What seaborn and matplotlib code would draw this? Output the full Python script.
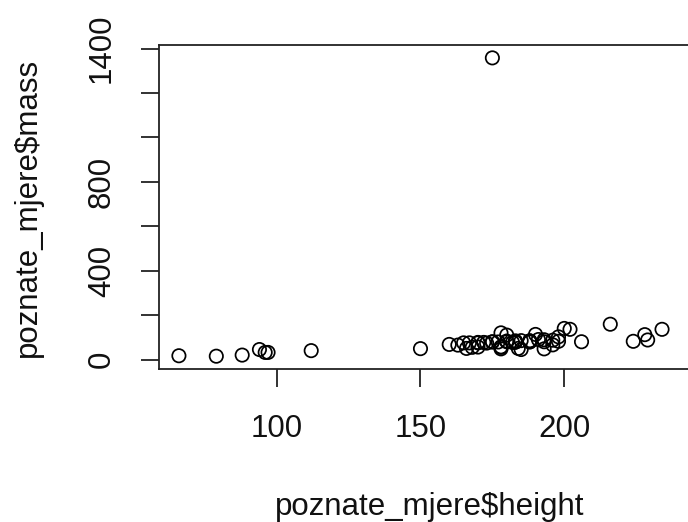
import matplotlib
matplotlib.use("Agg")
import matplotlib.pyplot as plt
import seaborn as sns
import pandas as pd

# Star Wars characters with both height (cm) and mass (kg) known
names = [
    "Luke Skywalker", "C-3PO", "R2-D2", "Darth Vader", "Leia Organa",
    "Owen Lars", "Beru Whitesun lars", "R5-D4", "Biggs Darklighter",
    "Obi-Wan Kenobi", "Anakin Skywalker", "Chewbacca", "Han Solo", "Greedo",
    "Jabba Desilijic Tiure", "Wedge Antilles", "Jek Tono Porkins", "Yoda",
    "Palpatine", "Boba Fett", "IG-88", "Bossk", "Lando Calrissian", "Lobot",
    "Ackbar", "Wicket Systri Warrick", "Nien Nunb", "Qui-Gon Jinn",
    "Nute Gunray", "Padmé Amidala", "Jar Jar Binks", "Roos Tarpals",
    "Darth Maul", "Ayla Secura", "Ratts Tyerell", "Dud Bolt", "Sebulba",
    "Ben Quadinaros", "Mace Windu", "Ki-Adi-Mundi", "Kit Fisto",
    "Adi Gallia", "Plo Koon", "Gregar Typho", "Poggle the Lesser",
    "Luminara Unduli", "Barriss Offee", "Dooku", "Jango Fett", "Zam Wesell",
    "Dexter Jettster", "Lama Su", "Wat Tambor", "Shaak Ti", "Grievous",
    "Tarfful", "Raymus Antilles", "Sly Moore", "Tion Medon",
]
height = [
    172, 167, 96, 202, 150, 178, 165, 97, 183, 182, 188, 228, 180, 173,
    175, 170, 180, 66, 170, 183, 200, 190, 177, 175, 180, 88, 160, 193,
    191, 185, 196, 224, 175, 178, 79, 94, 112, 163, 188, 198, 196, 184,
    188, 185, 183, 170, 166, 193, 183, 168, 198, 229, 193, 178, 216, 234,
    188, 178, 206,
]
mass = [
    77, 75, 32, 136, 49, 120, 75, 32, 84, 77, 84, 112, 80, 74, 1358, 77,
    110, 17, 75, 78.2, 140, 113, 79, 79, 83, 20, 68, 89, 90, 45, 66, 82,
    80, 55, 15, 45, 40, 65, 84, 82, 87, 50, 80, 85, 80, 56.2, 50, 80, 79,
    55, 102, 88, 48, 57, 159, 136, 79, 48, 80,
]

x_ticks = [100, 150, 200]
y_ticks = [0, 200, 400, 600, 800, 1000, 1200, 1400]
y_tick_labels = ["0", "", "400", "", "800", "", "", "1400"]

poznate_mjere = pd.DataFrame({"name": names, "height": height, "mass": mass})

sns.set_style("white")
plt.rcParams["font.family"] = ["Liberation Sans", "DejaVu Sans"]

W, H = 688, 522
fig = plt.figure(figsize=(W / 100, H / 100), dpi=100)

# plot region in pixels (the right edge runs past the canvas)
left_px, right_px, top_px, bottom_px = 158.5, 700.0, 45.0, 369.3
ax = fig.add_axes([left_px / W, 1 - bottom_px / H,
                   (right_px - left_px) / W, (bottom_px - top_px) / H])

sns.scatterplot(data=poznate_mjere, x="height", y="mass", ax=ax,
                marker="o", s=92, facecolor="none", edgecolor="black",
                linewidth=1.25, legend=False)
for coll in ax.collections:
    coll.set_facecolor("none")
    coll.set_edgecolor("black")

ax.set_xlim(58.9, 247.2)
ax.set_ylim(-44, 1416)

ax.set_xticks(x_ticks)
ax.set_xticklabels([str(t) for t in x_ticks])
ax.set_yticks(y_ticks)
ax.set_yticklabels(y_tick_labels)

for s in ax.spines.values():
    s.set_visible(True)
    s.set_color("#222222")
    s.set_linewidth(1.3)

ax.tick_params(axis="both", direction="out", length=13, width=1.3,
               color="#222222", labelsize=22.5, labelcolor="#111111")
ax.tick_params(axis="x", pad=19, bottom=True)
ax.tick_params(axis="y", pad=17, left=True)
for lab in ax.get_yticklabels():
    lab.set_rotation(90)
    lab.set_va("center")

ax.set_xlabel("poznate_mjere$height", fontsize=22.5, color="#111111")
ax.set_ylabel("poznate_mjere$mass", fontsize=22.5, color="#111111")
ax.xaxis.set_label_coords(0.5, (bottom_px - 492) / (bottom_px - top_px))
ax.yaxis.set_label_coords((43 - left_px) / (right_px - left_px), 0.5)
ax.grid(False)

fig.savefig("out.png", dpi=100)
